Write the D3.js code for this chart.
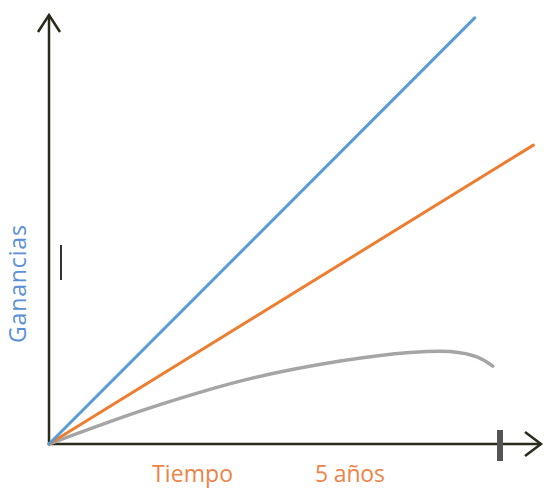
<!DOCTYPE html>
<html>
<head>
<meta charset="utf-8">
<script src="https://cdn.jsdelivr.net/npm/d3@7"></script>
<style>
  body { margin: 0; background: #fff; }
  svg { display: block; }
</style>
</head>
<body>
<svg id="chart" width="544" height="489"></svg>
<script>
// values (x in years, y in arbitrary units)
const blueLine = [[0, 0], [4.72, 9.91]];
const orangeLine = [[0, 0], [5.37, 6.95]];
const grayCurve = [
  [0, 0], [1.12, 0.84], [2.23, 1.52], [3.23, 1.93],
  [4.0, 2.13], [4.45, 2.15], [4.75, 2.02], [4.92, 1.81]
];
const yLabel = "Ganancias";
const xLabel = "Tiempo";
const markLabel = "5 años";
const markYear = 5;

const svg = d3.select("#chart");
const x = d3.scaleLinear().domain([0, 5]).range([49, 500]);
const y = d3.scaleLinear().domain([0, 10]).range([444, 14]);

const line = d3.line().x(d => x(d[0])).y(d => y(d[1]));
const curve = d3.line().x(d => x(d[0])).y(d => y(d[1])).curve(d3.curveCatmullRom.alpha(0.5));

const axisColor = "#2b2b1c";

// axes
svg.append("line")
  .attr("x1", x(0)).attr("y1", y(0))
  .attr("x2", x(0)).attr("y2", 15)
  .attr("stroke", axisColor).attr("stroke-width", 2.5);
svg.append("line")
  .attr("x1", x(0)).attr("y1", y(0))
  .attr("x2", 541).attr("y2", y(0))
  .attr("stroke", axisColor).attr("stroke-width", 2.5);

// arrow heads
svg.append("path")
  .attr("d", `M${x(0) - 11},${32} L${x(0)},${15} L${x(0) + 11},${32}`)
  .attr("fill", "none").attr("stroke", axisColor).attr("stroke-width", 2.5);
svg.append("path")
  .attr("d", `M${525},${y(0) - 12} L${541},${y(0)} L${525},${y(0) + 12}`)
  .attr("fill", "none").attr("stroke", axisColor).attr("stroke-width", 2.5);

// series
svg.append("path").datum(grayCurve)
  .attr("d", curve)
  .attr("fill", "none").attr("stroke", "#a5a5a5").attr("stroke-width", 3.5)
  .attr("stroke-linecap", "round");
svg.append("path").datum(orangeLine)
  .attr("d", line)
  .attr("fill", "none").attr("stroke", "#ed7d31").attr("stroke-width", 3)
  .attr("stroke-linecap", "round");
svg.append("path").datum(blueLine)
  .attr("d", line)
  .attr("fill", "none").attr("stroke", "#5b9bd5").attr("stroke-width", 3)
  .attr("stroke-linecap", "round");

// 5 year mark
svg.append("line")
  .attr("x1", x(markYear)).attr("x2", x(markYear))
  .attr("y1", y(0) - 14).attr("y2", y(0) + 17)
  .attr("stroke", "#555").attr("stroke-width", 6);

// small mark on y axis
svg.append("line")
  .attr("x1", 61).attr("x2", 61)
  .attr("y1", 245).attr("y2", 280)
  .attr("stroke", "#333").attr("stroke-width", 2);

// labels
svg.append("text")
  .attr("transform", "translate(26,284) rotate(-90)")
  .attr("text-anchor", "middle")
  .attr("font-family", "Open Sans")
  .attr("font-size", 23)
  .attr("fill", "#5b8fd6")
  .attr("textLength", 118)
  .text(yLabel);
svg.append("text")
  .attr("x", 152).attr("y", 482)
  .attr("font-family", "Open Sans")
  .attr("font-size", 23)
  .attr("fill", "#ee8346")
  .attr("textLength", 81)
  .text(xLabel);
svg.append("text")
  .attr("x", 315).attr("y", 482)
  .attr("font-family", "Open Sans")
  .attr("font-size", 23)
  .attr("fill", "#ee8346")
  .attr("textLength", 70)
  .text(markLabel);
</script>
</body>
</html>
